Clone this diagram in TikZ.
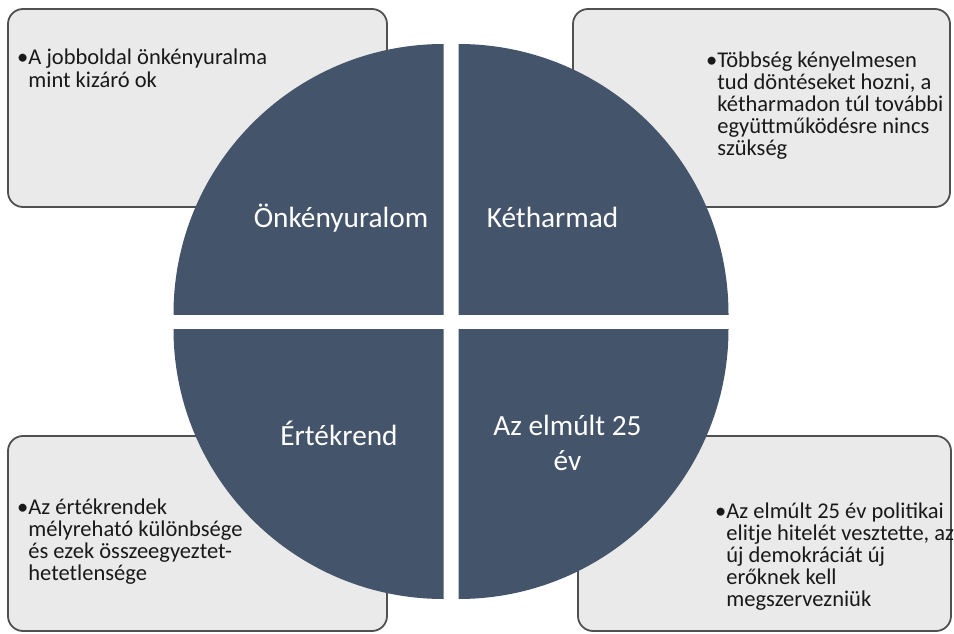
\documentclass[tikz,border=0pt]{standalone}
\usepackage{fontspec}
\setmainfont{Carlito}
\definecolor{slate}{HTML}{44546A}
\definecolor{boxfill}{HTML}{EAEAEA}
\definecolor{boxline}{HTML}{505050}
\newcommand{\pts}[1]{\begin{tabular}[t]{@{}l@{}l@{}}#1\end{tabular}}
\newcommand{\ctr}[1]{\begin{tabular}[t]{@{}c@{}}#1\end{tabular}}
\begin{document}
\begin{tikzpicture}[x=1pt,y=-1pt,
  box/.style={rectangle,draw=boxline,fill=boxfill,line width=1.8pt,rounded corners=15pt},
  lab/.style={anchor=base,inner sep=0pt,text=white,font=\fontsize{29.3}{35}\selectfont},
  txt/.style={anchor=base west,inner sep=0pt,text=black!90,font=\fontsize{22.5}{21.3}\selectfont}]
\useasboundingbox (0,0) rectangle (954,634);
% the four boxes
\node[box,minimum width=379pt,minimum height=198pt] (tlb) at (197.5,108) {};
\node[box,minimum width=377pt,minimum height=198pt] (trb) at (761.5,108) {};
\node[box,minimum width=379pt,minimum height=195pt] (blb) at (197.5,533.5) {};
\node[box,minimum width=373pt,minimum height=195pt] (brb) at (764.5,533.5) {};
% circle in four quarters
\foreach \dx/\dy in {-7.5/-7.5,7.5/-7.5,-7.5/7.5,7.5/7.5}{
  \begin{scope}
    \clip (451+\dx,321.5+\dy) rectangle ++(40*\dx,40*\dy);
    \fill[slate] (451+\dx,321.5+\dy) circle[radius=270];
  \end{scope}}
\node[lab] (onk) at (341,227) {Önkényuralom};
\node[lab] (ket) at (552.5,227) {Kétharmad};
\node[lab] (ert) at (339,445) {Értékrend};
\node[lab] (ev) at (567.5,435) {\ctr{Az elmúlt 25\\év}};
% texts
\node[txt] (tlt) at (17,65) {\pts{\textbullet&A jobboldal önkényuralma\\&mint kizáró ok}};
\node[txt] (trt) at (706,67) {\pts{\textbullet&Többség kényelmesen\\&tud döntéseket hozni, a\\&kétharmadon túl további\\&együttműködésre nincs\\&szükség}};
\node[txt] (blt) at (17,514) {\pts{\textbullet&Az értékrendek\\&mélyreható különbsége\\&és ezek összeegyeztet-\\&hetetlensége}};
\node[txt] (brt) at (715,518) {\pts{\textbullet&Az elmúlt 25 év politikai\\&elitje hitelét vesztette, az\\&új demokráciát új\\&erőknek kell\\&megszervezniük}};
\end{tikzpicture}
\end{document}
